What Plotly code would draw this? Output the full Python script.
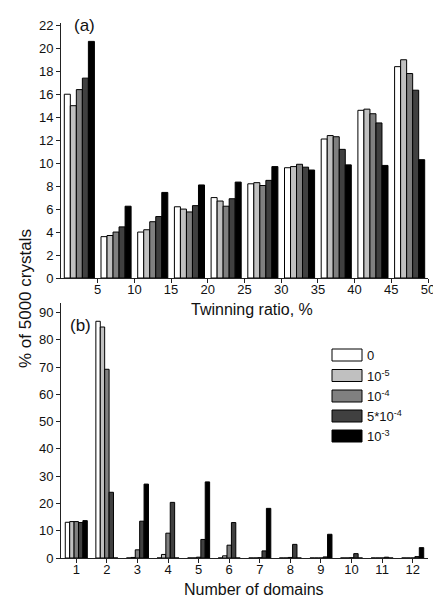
import plotly.graph_objects as go

# ---------------- data ----------------
series_names = ["0", "10<sup>-5</sup>", "10<sup>-4</sup>", "5*10<sup>-4</sup>", "10<sup>-3</sup>"]
series_colors = ["#ffffff", "#c0c0c0", "#808080", "#404040", "#000000"]

# (a) twinning ratio bins (bin centres, %)
ratio_bins = [2.5, 7.5, 12.5, 17.5, 22.5, 27.5, 32.5, 37.5, 42.5, 47.5]
ratio_ticks = [5, 10, 15, 20, 25, 30, 35, 40, 45, 50]
ratio_0 = [16.0, 3.6, 4.0, 6.2, 7.0, 8.2, 9.6, 12.1, 14.6, 18.4]
ratio_1e5 = [15.0, 3.7, 4.2, 6.0, 6.7, 8.3, 9.7, 12.4, 14.7, 19.0]
ratio_1e4 = [16.4, 4.0, 4.9, 5.75, 6.25, 8.05, 9.9, 12.3, 14.3, 17.8]
ratio_5e4 = [17.4, 4.45, 5.35, 6.3, 6.9, 8.5, 9.65, 11.2, 13.5, 16.35]
ratio_1e3 = [20.6, 6.25, 7.45, 8.1, 8.35, 9.7, 9.4, 9.85, 9.8, 10.3]
ratio_yticks = [0, 2, 4, 6, 8, 10, 12, 14, 16, 18, 20, 22]

# (b) number of domains
domains = [1, 2, 3, 4, 5, 6, 7, 8, 9, 10, 11, 12]
dom_0 = [13.1, 86.8, 0, 0, 0, 0, 0, 0, 0, 0, 0, 0]
dom_1e5 = [13.35, 84.7, 0.2, 1.3, 0, 0.8, 0, 0, 0, 0, 0, 0]
dom_1e4 = [13.35, 69.2, 3.0, 9.1, 0.3, 4.7, 0.1, 0.2, 0, 0.1, 0, 0]
dom_5e4 = [13.0, 24.1, 13.5, 20.4, 6.8, 13.0, 2.6, 5.0, 0.4, 1.6, 0.3, 0.5]
dom_1e3 = [13.7, 0, 27.1, 0, 27.9, 0, 18.2, 0, 8.7, 0, 0, 3.8]
dom_yticks = [0, 10, 20, 30, 40, 50, 60, 70, 80, 90]

ratio_series = [ratio_0, ratio_1e5, ratio_1e4, ratio_5e4, ratio_1e3]
dom_series = [dom_0, dom_1e5, dom_1e4, dom_5e4, dom_1e3]

# ---------------- figure ----------------
FONT = "Liberation Sans, Arial, sans-serif"
W, H = 433, 597
ML, MR, MT, MB = 61, 5, 23, 39
PW = W - ML - MR
PH = H - MT - MB


def px_x(x):
    return (x - ML) / PW


def px_y(y):
    return (H - MB - y) / PH


fig = go.Figure()

# top panel bars
group_a = 5 * 0.82
wa = group_a / 5
for i, (name, col, vals) in enumerate(zip(series_names, series_colors, ratio_series)):
    fig.add_trace(go.Bar(
        x=ratio_bins, y=vals, name=name, xaxis="x", yaxis="y",
        width=wa, offset=-group_a / 2 + i * wa,
        marker=dict(color=col, line=dict(color="#000000", width=1)),
        showlegend=False,
    ))

# bottom panel bars
group_b = 0.72
wb = group_b / 5
for i, (name, col, vals) in enumerate(zip(series_names, series_colors, dom_series)):
    fig.add_trace(go.Bar(
        x=domains, y=vals, name=name, xaxis="x2", yaxis="y2",
        width=wb, offset=-group_b / 2 + i * wb,
        marker=dict(color=col, line=dict(color="#000000", width=1)),
        showlegend=False,
    ))

axis_common = dict(
    showgrid=False, zeroline=False, showline=True, linecolor="#222222", linewidth=1,
    ticks="outside", ticklen=4, tickwidth=1, tickcolor="#222222",
    tickfont=dict(family=FONT, size=13, color="#111111"),
    ticklabeloverflow="allow", automargin=False,
)

top_bottom = px_y(278)
bot_top = px_y(303)

fig.update_layout(
    width=W, height=H,
    margin=dict(l=ML, r=MR, t=MT, b=MB, autoexpand=False),
    paper_bgcolor="white", plot_bgcolor="white",
    barmode="overlay",
    font=dict(family=FONT, size=13, color="#111111"),
    xaxis=dict(domain=[0, 1], range=[0, 50], tickvals=ratio_ticks, anchor="y",
               ticklabelstandoff=-5, **axis_common),
    yaxis=dict(domain=[top_bottom, 1], range=[0, 22.2], tickvals=ratio_yticks, anchor="x", **axis_common),
    xaxis2=dict(domain=[0, 1], range=[0.5, 12.5], tickvals=domains, anchor="y2",
                ticklabelstandoff=-5, **axis_common),
    yaxis2=dict(domain=[0, bot_top], range=[0, 93.5], tickvals=dom_yticks, anchor="x2", **axis_common),
    showlegend=False,
)


def label(text, x, y, size, **kw):
    d = dict(text=text, x=px_x(x), y=px_y(y), xref="paper", yref="paper",
             xanchor="center", yanchor="middle", showarrow=False,
             font=dict(family=FONT, size=size, color="#111111"))
    d.update(kw)
    return d


annotations = [
    label("(a)", 84, 25, 17),
    label("(b)", 80, 325, 17),
    label("Twinning ratio, %", 252, 309, 16),
    label("Number of domains", 254, 589, 16),
    label("% of 5000 crystals", 25, 299, 17, textangle=-90),
]

shapes = []
legend_rows = [355, 375.5, 396, 416, 436]
for name, col, yc in zip(series_names, series_colors, legend_rows):
    shapes.append(dict(type="rect", xref="paper", yref="paper",
                       x0=px_x(332), x1=px_x(362), y0=px_y(yc + 6), y1=px_y(yc - 6),
                       fillcolor=col, line=dict(color="#000000", width=1)))
    annotations.append(label(name, 365, yc, 13, xanchor="left"))

fig.update_layout(annotations=annotations, shapes=shapes)

fig.write_html("out.html", config={"displayModeBar": False},
               post_script="document.body.style.margin='0px';")
